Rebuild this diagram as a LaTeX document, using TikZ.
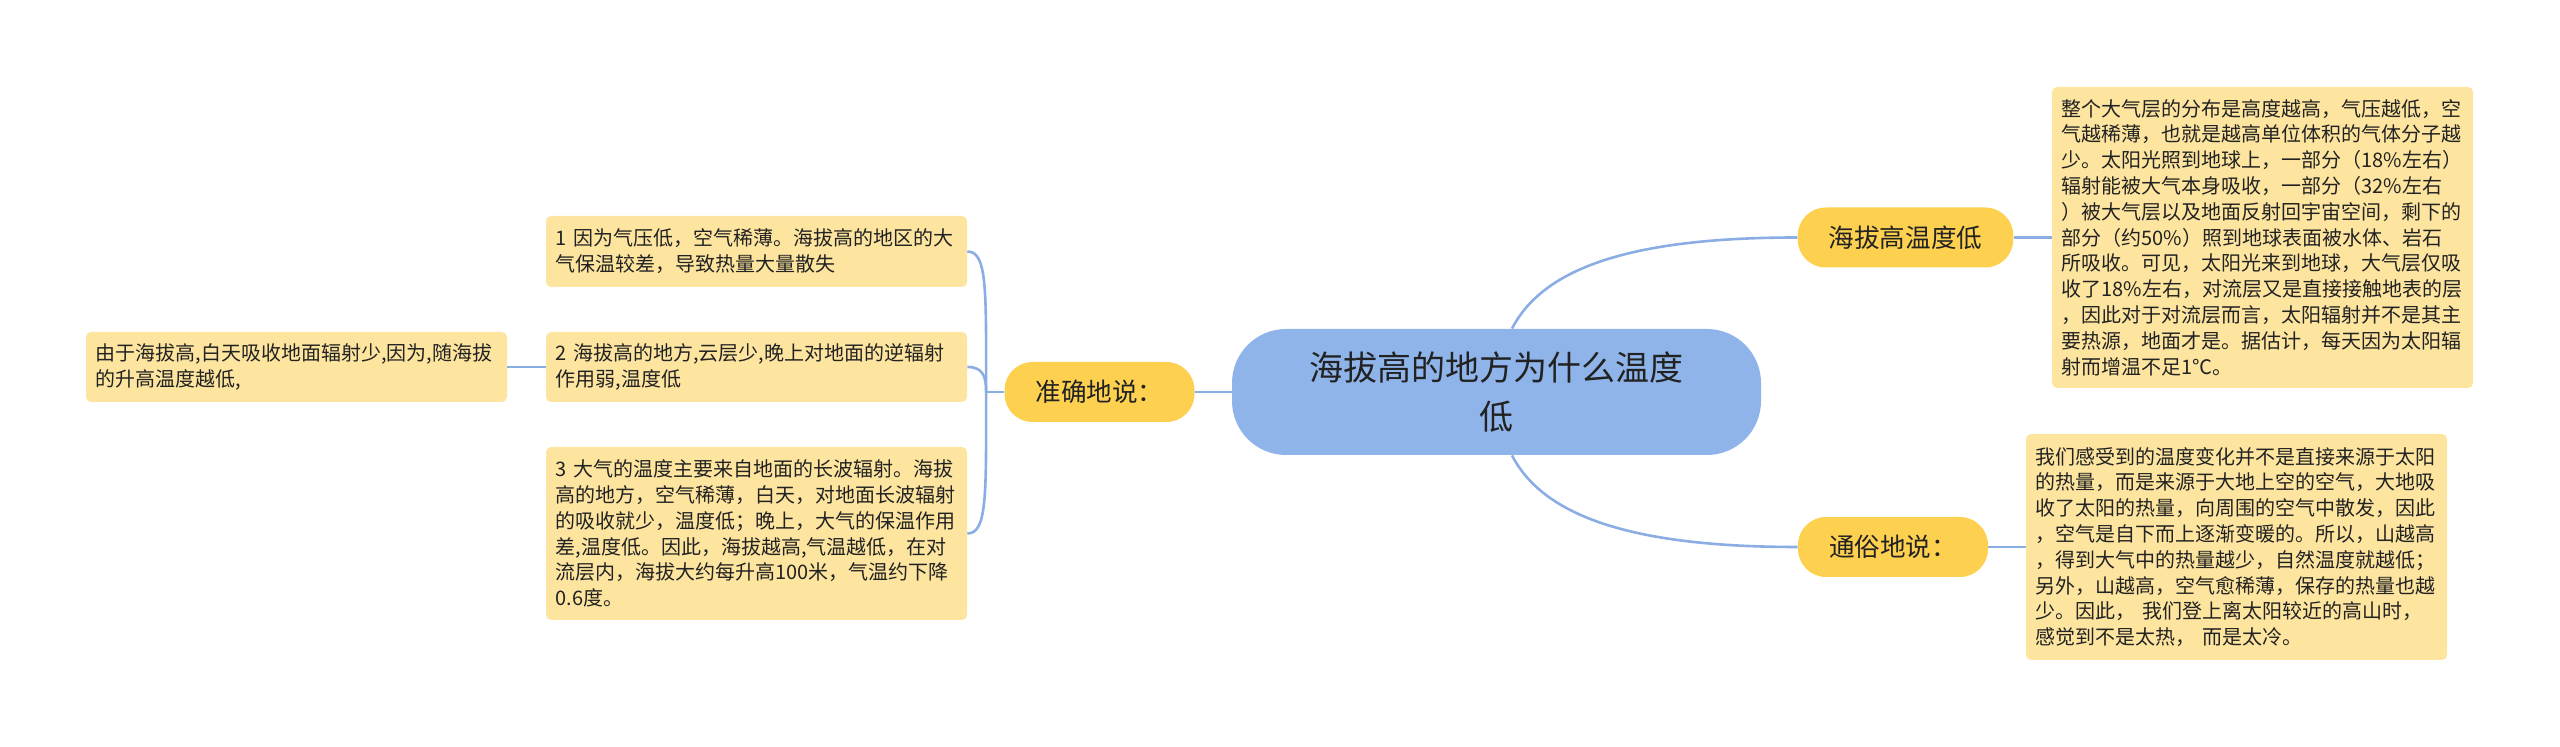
\documentclass[tikz,border=0pt]{standalone}
\usepackage{fontspec}
\setmainfont{Noto Sans CJK SC}
\usepackage{tikz}
\usetikzlibrary{calc}

\definecolor{rootblue}{HTML}{8FB4EA}
\definecolor{tagyellow}{HTML}{FDD14F}
\definecolor{notecream}{HTML}{FDE5A0}
\definecolor{linkblue}{HTML}{8AADE3}
\definecolor{inkdark}{HTML}{222222}

\begin{document}
\begin{tikzpicture}[x=0.5pt, y=-0.5pt,
    link/.style={draw=linkblue, line width=1.3pt},
    root/.style={fill=rootblue, rounded corners=27pt, minimum width=264.5pt,
      minimum height=63pt, align=center, text=inkdark,
      font=\fontsize{17pt}{24.5pt}\selectfont},
    tag/.style={fill=tagyellow, rounded corners=14pt, minimum height=30pt,
      inner xsep=15.5pt, text=inkdark, font=\fontsize{12.8pt}{15pt}\selectfont},
    note/.style={fill=notecream, rounded corners=2.5pt, text width=201pt,
      inner xsep=4.75pt, inner ysep=2pt, align=left, text=inkdark,
      font=\fontsize{10pt}{12.9pt}\selectfont}]
  \useasboundingbox (0,0) rectangle (2560,747);

  % ── Central topic ─────────────────────────────────────────────
  \node[root] (root) at (1496.5,392) {海拔高的地方为什么温度\\低};

  % ── Right branches ────────────────────────────────────────────
  \node[tag] (hbtag) at (1905.5,237.5) {海拔高温度低};
  \node[tag] (tstag) at (1893,547) {通俗地说：};

  \node[note, minimum height=150.5pt] (hbnote) at (2262.5,237.5) {%
    整个大气层的分布是高度越高，气压越低，空\\
    气越稀薄，也就是越高单位体积的气体分子越\\
    少。太阳光照到地球上，一部分（18\%左右）\\
    辐射能被大气本身吸收，一部分（32\%左右\\
    ）被大气层以及地面反射回宇宙空间，剩下的\\
    部分（约50\%）照到地球表面被水体、岩石\\
    所吸收。可见，太阳光来到地球，大气层仅吸\\
    收了18\%左右，对流层又是直接接触地表的层\\
    ，因此对于对流层而言，太阳辐射并不是其主\\
    要热源，地面才是。据估计，每天因为太阳辐\\
    射而增温不足1℃。};

  \node[note, minimum height=113pt] (tsnote) at (2236.5,547) {%
    我们感受到的温度变化并不是直接来源于太阳\\
    的热量，而是来源于大地上空的空气，大地吸\\
    收了太阳的热量，向周围的空气中散发，因此\\
    ，空气是自下而上逐渐变暖的。所以，山越高\\
    ，得到大气中的热量越少，自然温度就越低；\\
    另外，山越高，空气愈稀薄，保存的热量也越\\
    少。因此，~我们登上离太阳较近的高山时，\\
    感觉到不是太热，~而是太冷。};

  \draw[link] ($(root.north)+(15.5,0)$) .. controls +(33,-64) and +(-158,0) .. (hbtag.west);
  \draw[link] ($(root.south)+(15.5,0)$) .. controls +(33,64) and +(-158,0) .. (tstag.west);
  \draw[link] (hbtag.east) -- (hbnote.west);
  \draw[link] (tstag.east) -- (tsnote.west);

  % ── Left branch ───────────────────────────────────────────────
  \node[tag] (zqtag) at (1099.5,392) {准确地说：};

  \node[note, minimum height=35.5pt] (zq1) at (756.5,251.5) {%
    1~因为气压低，空气稀薄。海拔高的地区的大\\
    气保温较差，导致热量大量散失};
  \node[note, minimum height=35pt] (zq2) at (756.5,367) {%
    2~海拔高的地方,云层少,晚上对地面的逆辐射\\
    作用弱,温度低};
  \node[note, minimum height=86.5pt] (zq3) at (756.5,533.5) {%
    3~大气的温度主要来自地面的长波辐射。海拔\\
    高的地方，空气稀薄，白天，对地面长波辐射\\
    的吸收就少，温度低；晚上，大气的保温作用\\
    差,温度低。因此，海拔越高,气温越低，在对\\
    流层内，海拔大约每升高100米，气温约下降\\
    0.6度。};
  \node[note, minimum height=35pt] (zq2a) at (296.5,367) {%
    由于海拔高,白天吸收地面辐射少,因为,随海拔\\
    的升高温度越低,};

  \coordinate (fork) at ($(zqtag.west)+(-18,0)$);
  \draw[link] (root.west) -- (zqtag.east);
  \draw[link] (zqtag.west) -- (fork);
  \draw[link] (fork) .. controls +(0,-102) and +(20,0) .. (zq1.east);
  \draw[link] (fork) .. controls +(0,-15) and +(16,0) .. (zq2.east);
  \draw[link] (fork) .. controls +(0,102) and +(20,0) .. (zq3.east);
  \draw[link] (zq2.west) -- (zq2a.east);
\end{tikzpicture}
\end{document}
